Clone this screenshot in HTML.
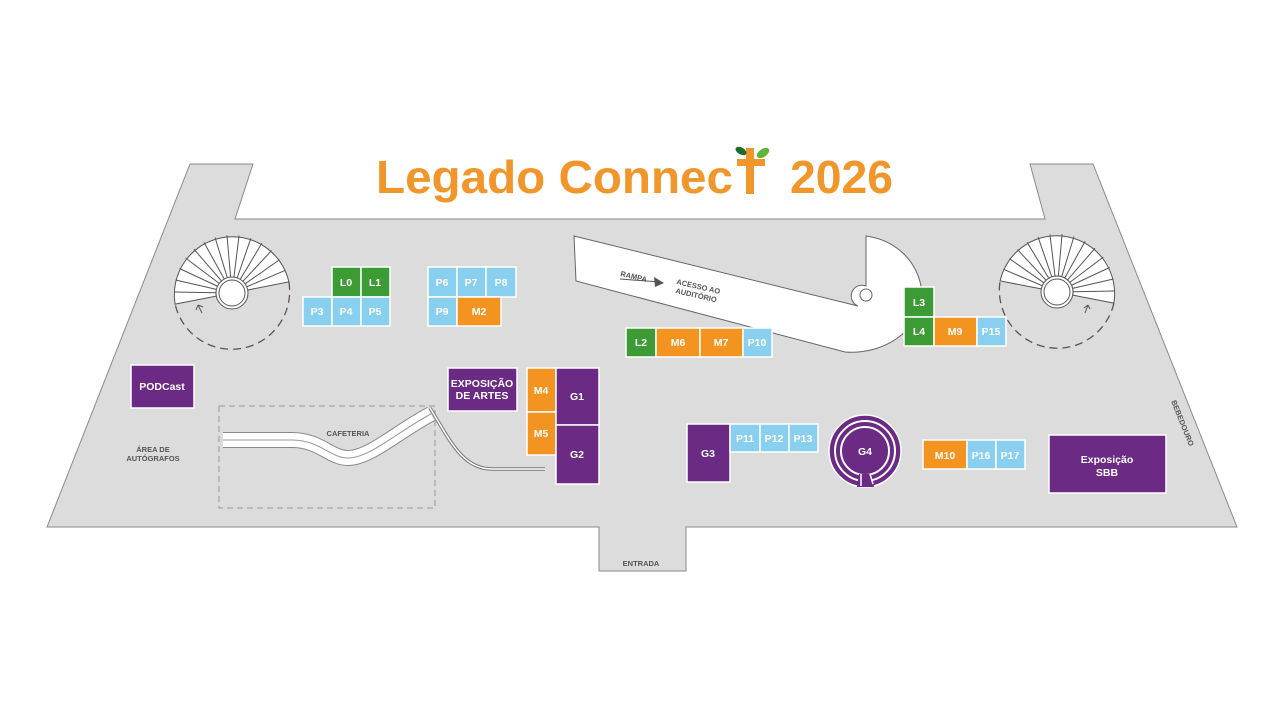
<!DOCTYPE html>
<html><head><meta charset="utf-8"><style>
html,body{margin:0;padding:0;background:#fff;}
svg{display:block;}
text{font-family:"Liberation Sans",sans-serif;font-weight:bold;}
.b text{fill:#fff;font-size:10.5px;text-anchor:middle;}
</style></head><body>
<svg width="1280" height="719" viewBox="0 0 1280 719" xmlns="http://www.w3.org/2000/svg">
<rect width="1280" height="719" fill="#fff"/>
<path d="M47,527 L190,164 L253,164 L235,219 L1045,219 L1030,164 L1093,164 L1237,527 L686,527 L686,571 L599,571 L599,527 Z" fill="#dcdcdd" stroke="#8a8a8a" stroke-width="1"/>
<text x="376" y="193" font-size="46" fill="#f0962a" textLength="357" lengthAdjust="spacingAndGlyphs">Legado Connec</text>
<rect x="746" y="148" width="8" height="46" fill="#f0962a"/>
<rect x="737" y="159" width="28" height="7" fill="#f0962a"/>
<ellipse cx="741" cy="151" rx="6" ry="3.5" transform="rotate(30 741 151)" fill="#1f6b2a"/>
<ellipse cx="763" cy="153" rx="7" ry="4" transform="rotate(-35 763 153)" fill="#5fb63a"/>
<text x="790" y="193" font-size="46" fill="#f0962a" textLength="103" lengthAdjust="spacingAndGlyphs">2026</text>
<g stroke="#555" stroke-width="1" fill="none">
<path d="M175.1,304.1 A58,58 0 0 1 288.9,281.9 L247.7,290 A16,16 0 0 0 216.3,296.1 Z" fill="#fff"/>
<path d="M288.9,281.9 A58,58 0 0 1 175.1,304.1" stroke-dasharray="8,5" stroke-width="1.3"/>
<g transform="translate(232,293)">
<line x1="16" y1="0" x2="58" y2="0" transform="rotate(181)"/><line x1="16" y1="0" x2="58" y2="0" transform="rotate(193)"/>
<line x1="16" y1="0" x2="58" y2="0" transform="rotate(205)"/><line x1="16" y1="0" x2="58" y2="0" transform="rotate(217)"/>
<line x1="16" y1="0" x2="58" y2="0" transform="rotate(229)"/><line x1="16" y1="0" x2="58" y2="0" transform="rotate(241)"/>
<line x1="16" y1="0" x2="58" y2="0" transform="rotate(253)"/><line x1="16" y1="0" x2="58" y2="0" transform="rotate(265)"/>
<line x1="16" y1="0" x2="58" y2="0" transform="rotate(277)"/><line x1="16" y1="0" x2="58" y2="0" transform="rotate(289)"/>
<line x1="16" y1="0" x2="58" y2="0" transform="rotate(301)"/><line x1="16" y1="0" x2="58" y2="0" transform="rotate(313)"/>
<line x1="16" y1="0" x2="58" y2="0" transform="rotate(325)"/><line x1="16" y1="0" x2="58" y2="0" transform="rotate(337)"/>
<circle r="16" fill="#fff"/><circle r="13" fill="#fff"/>
</g>
<path d="M202,313 L198,305 M198,305 L196,310 M198,305 L203,307"/>
</g>
<g stroke="#555" stroke-width="1" fill="none">
<path d="M1000.1,280.9 A58,58 0 0 1 1113.9,303.1 L1072.7,295.1 A16,16 0 0 0 1041.3,288.9 Z" fill="#fff"/>
<path d="M1113.9,303.1 A58,58 0 0 1 1000.1,280.9" stroke-dasharray="8,5" stroke-width="1.3"/>
<g transform="translate(1057,292)">
<line x1="16" y1="0" x2="58" y2="0" transform="rotate(203)"/><line x1="16" y1="0" x2="58" y2="0" transform="rotate(215)"/>
<line x1="16" y1="0" x2="58" y2="0" transform="rotate(227)"/><line x1="16" y1="0" x2="58" y2="0" transform="rotate(239)"/>
<line x1="16" y1="0" x2="58" y2="0" transform="rotate(251)"/><line x1="16" y1="0" x2="58" y2="0" transform="rotate(263)"/>
<line x1="16" y1="0" x2="58" y2="0" transform="rotate(275)"/><line x1="16" y1="0" x2="58" y2="0" transform="rotate(287)"/>
<line x1="16" y1="0" x2="58" y2="0" transform="rotate(299)"/><line x1="16" y1="0" x2="58" y2="0" transform="rotate(311)"/>
<line x1="16" y1="0" x2="58" y2="0" transform="rotate(323)"/><line x1="16" y1="0" x2="58" y2="0" transform="rotate(335)"/>
<line x1="16" y1="0" x2="58" y2="0" transform="rotate(347)"/><line x1="16" y1="0" x2="58" y2="0" transform="rotate(359)"/>
<circle r="16" fill="#fff"/><circle r="13" fill="#fff"/>
</g>
<path d="M1085,313 L1088,305 M1088,305 L1084,308 M1088,305 L1090,309"/>
</g>
<path d="M574,236 L858,306 A9,9 0 1 1 866,286 L866,236 C895,240 918,260 922,292 L922,300 C918,330 885,355 845,352 L576,281 Z" fill="#fff" stroke="#666" stroke-width="1"/>
<circle cx="866" cy="295" r="6" fill="#fff" stroke="#666" stroke-width="1"/>
<g fill="#555" font-size="7.5">
<text x="620" y="276" transform="rotate(13 620 276)">RAMPA</text>
<text x="676" y="284" transform="rotate(13 676 284)">ACESSO AO</text>
<text x="675" y="293" transform="rotate(13 675 293)">AUDITÓRIO</text>
</g>
<path d="M620,279 L660,282" stroke="#555" stroke-width="1"/>
<path d="M654,277 L664,283 L655,287 Z" fill="#555"/>
<rect x="219" y="406" width="216" height="102" fill="none" stroke="#999" stroke-width="1" stroke-dasharray="6,4"/>
<path d="M223,440 L292,440 C320,440 330,458 348,458 C370,458 400,430 431,414" fill="none" stroke="#888" stroke-width="16"/>
<path d="M223,440 L292,440 C320,440 330,458 348,458 C370,458 400,430 431,414" fill="none" stroke="#fff" stroke-width="14"/>
<path d="M223,440 L292,440 C320,440 330,458 348,458 C370,458 400,430 431,414" fill="none" stroke="#999" stroke-width="1"/>
<path d="M430,408 C450,440 462,469 492,469 L545,469" fill="none" stroke="#777" stroke-width="3.5"/>
<path d="M430,408 C450,440 462,469 492,469 L545,469" fill="none" stroke="#fff" stroke-width="1.5"/>
<text x="348" y="436" font-size="7.5" fill="#555" text-anchor="middle">CAFETERIA</text>
<text x="153" y="452" font-size="7.5" fill="#555" text-anchor="middle">ÁREA DE</text>
<text x="153" y="461" font-size="7.5" fill="#555" text-anchor="middle">AUTÓGRAFOS</text>
<text x="641" y="566" font-size="7.5" fill="#555" text-anchor="middle">ENTRADA</text>
<text x="1183" y="426" font-size="7.5" fill="#555" text-anchor="middle" transform="rotate(68 1183 423)">BEBEDOURO</text>
<g class="b" stroke="#fff" stroke-width="1.5">
<rect x="332" y="267" width="29" height="30" fill="#3d9b35"/><rect x="361" y="267" width="29" height="30" fill="#3d9b35"/>
<rect x="303" y="297" width="29" height="29" fill="#89cff0"/><rect x="332" y="297" width="29" height="29" fill="#89cff0"/><rect x="361" y="297" width="29" height="29" fill="#89cff0"/>
<rect x="428" y="267" width="29" height="30" fill="#89cff0"/><rect x="457" y="267" width="29" height="30" fill="#89cff0"/><rect x="486" y="267" width="30" height="30" fill="#89cff0"/>
<rect x="428" y="297" width="29" height="29" fill="#89cff0"/><rect x="457" y="297" width="44" height="29" fill="#f39320"/>
<rect x="626" y="328" width="30" height="29" fill="#3d9b35"/><rect x="656" y="328" width="44" height="29" fill="#f39320"/><rect x="700" y="328" width="43" height="29" fill="#f39320"/><rect x="743" y="328" width="29" height="29" fill="#89cff0"/>
<rect x="904" y="287" width="30" height="30" fill="#3d9b35"/><rect x="904" y="317" width="30" height="29" fill="#3d9b35"/><rect x="934" y="317" width="43" height="29" fill="#f39320"/><rect x="977" y="317" width="29" height="29" fill="#89cff0"/>
<rect x="131" y="365" width="63" height="43" fill="#6b2a84"/>
<rect x="448" y="368" width="69" height="43" fill="#6b2a84"/>
<rect x="527" y="368" width="29" height="44" fill="#f39320"/><rect x="527" y="412" width="29" height="43" fill="#f39320"/>
<rect x="556" y="368" width="43" height="57" fill="#6b2a84"/><rect x="556" y="425" width="43" height="59" fill="#6b2a84"/>
<rect x="687" y="424" width="43" height="58" fill="#6b2a84"/>
<rect x="730" y="424" width="30" height="28" fill="#89cff0"/><rect x="760" y="424" width="29" height="28" fill="#89cff0"/><rect x="789" y="424" width="29" height="28" fill="#89cff0"/>
<rect x="923" y="440" width="44" height="29" fill="#f39320"/><rect x="967" y="440" width="29" height="29" fill="#89cff0"/><rect x="996" y="440" width="29" height="29" fill="#89cff0"/>
<rect x="1049" y="435" width="117" height="58" fill="#6b2a84"/>
<circle cx="865" cy="451" r="36" fill="#6b2a84"/>
</g>
<g fill="none" stroke="#fff" stroke-width="2">
<circle cx="865" cy="451" r="30"/><circle cx="865" cy="451" r="24"/>
</g>
<path d="M859,474 L871,474 L874,487 L857,487 Z" fill="#6b2a84"/>
<path d="M861,474 L861,486 M870,474 L873,484" stroke="#fff" stroke-width="1.5"/>
<g class="b">
<text x="346" y="286">L0</text><text x="375" y="286">L1</text>
<text x="317" y="315">P3</text><text x="346" y="315">P4</text><text x="375" y="315">P5</text>
<text x="442" y="286">P6</text><text x="471" y="286">P7</text><text x="501" y="286">P8</text>
<text x="442" y="315">P9</text><text x="479" y="315">M2</text>
<text x="641" y="346">L2</text><text x="678" y="346">M6</text><text x="721" y="346">M7</text><text x="757" y="346">P10</text>
<text x="919" y="306">L3</text><text x="919" y="335">L4</text><text x="955" y="335">M9</text><text x="991" y="335">P15</text>
<text x="162" y="390">PODCast</text>
<text x="482" y="387" font-size="10">EXPOSIÇÃO</text><text x="482" y="399" font-size="10">DE ARTES</text>
<text x="541" y="394">M4</text><text x="541" y="437">M5</text>
<text x="577" y="400">G1</text><text x="577" y="458">G2</text>
<text x="708" y="457">G3</text>
<text x="745" y="442">P11</text><text x="774" y="442">P12</text><text x="803" y="442">P13</text>
<text x="865" y="455">G4</text>
<text x="945" y="459">M10</text><text x="981" y="459">P16</text><text x="1010" y="459">P17</text>
<text x="1107" y="463">Exposição</text><text x="1107" y="476">SBB</text>
</g>
</svg>
</body></html>
